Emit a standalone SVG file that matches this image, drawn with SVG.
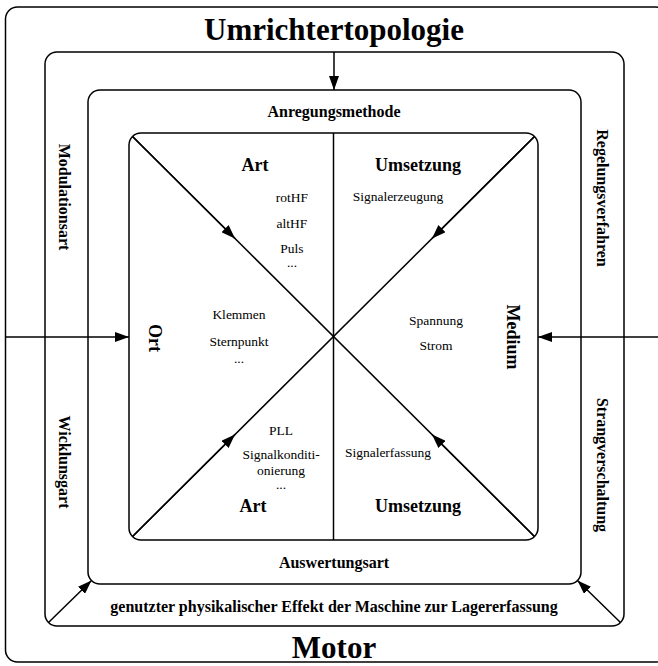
<svg xmlns="http://www.w3.org/2000/svg" width="658" height="666" viewBox="0 0 658 666">
<style>
.box{fill:none;stroke:#000;stroke-width:1.5}
.ln{fill:none;stroke:#000;stroke-width:1.5}
.arr{fill:none;stroke:#000;stroke-width:1.5;marker-end:url(#ah)}
text{font-family:"Liberation Serif","Times New Roman",serif;fill:#000;text-anchor:middle}
.big{font-size:31px;font-weight:bold}
.lab{font-size:16px;font-weight:bold}
.hd{font-size:18px;font-weight:bold}
.it{font-size:13.5px}
</style>
<defs>
<marker id="ah" viewBox="0 0 14 10" refX="14" refY="5" markerWidth="14" markerHeight="10" markerUnits="userSpaceOnUse" orient="auto"><path d="M0,0 L14,5 L0,10 z" fill="#000"/></marker>
</defs>
<rect width="658" height="666" fill="#fff"/>

<g id="motor">
<rect class="box" x="5.5" y="7" width="662" height="655" rx="12"/>
<text class="big" x="334" y="40">Umrichtertopologie</text>
<text class="big" x="334" y="658">Motor</text>
</g>

<g id="effekt">
<rect class="box" x="45" y="52" width="579" height="574" rx="12"/>
<text class="lab" x="334" y="612">genutzter physikalischer Effekt der Maschine zur Lagererfassung</text>
<text class="lab" transform="translate(64,197) rotate(90)" y="5.5">Modulationsart</text>
<text class="lab" transform="translate(64,462) rotate(90)" y="5.5">Wicklunsgart</text>
<text class="lab" transform="translate(602,198) rotate(90)" y="5.5">Regelungsverfahren</text>
<text class="lab" transform="translate(602,465) rotate(90)" y="5.5">Strangverschaltung</text>
</g>

<g id="methode">
<rect class="box" x="88" y="90" width="493" height="494" rx="12"/>
<text class="lab" x="334" y="117">Anregungsmethode</text>
<text class="lab" x="334" y="568">Auswertungsart</text>
</g>

<g id="kern">
<rect class="box" x="129" y="133" width="409" height="407" rx="12"/>
<line class="ln" x1="333.5" y1="133" x2="333.5" y2="540"/>
</g>

<g id="anregung-art">
<text class="hd" x="255" y="171">Art</text>
<text class="it" x="292" y="202">rotHF</text>
<text class="it" x="292" y="228">altHF</text>
<text class="it" x="292" y="253">Puls</text>
<text class="it" x="292" y="267">...</text>
</g>

<g id="anregung-umsetzung">
<text class="hd" x="418" y="171">Umsetzung</text>
<text class="it" x="398" y="201">Signalerzeugung</text>
</g>

<g id="ort">
<text class="hd" transform="translate(155,338) rotate(90)" y="6">Ort</text>
<text class="it" x="239" y="319">Klemmen</text>
<text class="it" x="239" y="346">Sternpunkt</text>
<text class="it" x="239" y="363">...</text>
</g>

<g id="medium">
<text class="hd" transform="translate(513,337) rotate(90)" y="6">Medium</text>
<text class="it" x="436" y="325">Spannung</text>
<text class="it" x="436" y="350">Strom</text>
</g>

<g id="auswertung-art">
<text class="it" x="281" y="435">PLL</text>
<text class="it" x="281" y="459">Signalkonditi-</text>
<text class="it" x="281" y="475">onierung</text>
<text class="it" x="281" y="489">...</text>
<text class="hd" x="253" y="512">Art</text>
</g>

<g id="auswertung-umsetzung">
<text class="it" x="388" y="457">Signalerfassung</text>
<text class="hd" x="418" y="512">Umsetzung</text>
</g>

<g id="connectors">
<line class="ln" x1="132.5" y1="136.5" x2="534.5" y2="536.5"/>
<line class="ln" x1="534.5" y1="136.5" x2="132.5" y2="536.5"/>
<path class="arr" d="M132.5,136.5 L235,238.5"/>
<path class="arr" d="M534.5,136.5 L432,238.5"/>
<path class="arr" d="M132.5,536.5 L235,434.5"/>
<path class="arr" d="M534.5,536.5 L432,434.5"/>
<path class="arr" d="M334,52 L334,90"/>
<path class="arr" d="M5.5,337 L129,337"/>
<path class="arr" d="M660,337 L538,337"/>
<path class="arr" d="M48.5,622.5 L91.5,580.5"/>
<path class="arr" d="M620.5,622.5 L577.5,580.5"/>
</g>
</svg>
